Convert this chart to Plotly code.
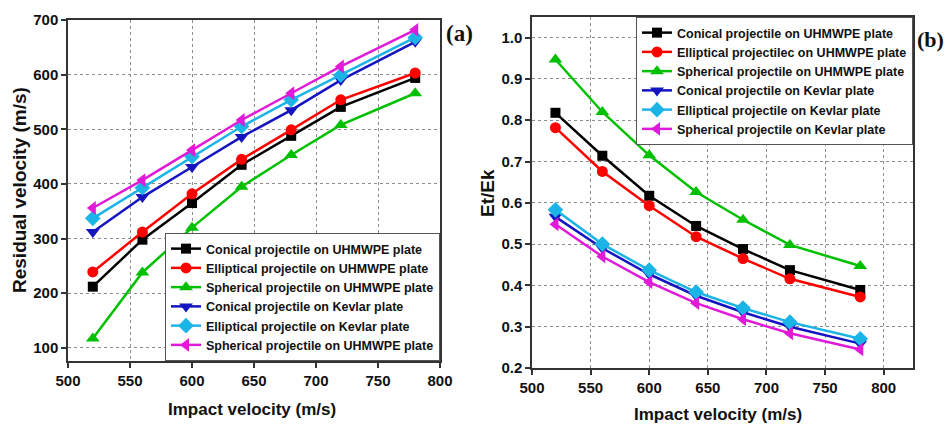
import plotly.graph_objects as go

# Impact velocities (m/s)
impact_velocity = [520, 560, 600, 640, 680, 720, 780]

# (a) Residual velocity (m/s)
res_conical_uhmwpe = [212, 298, 365, 435, 488, 541, 594]
res_elliptical_uhmwpe = [239, 312, 382, 445, 499, 554, 603]
res_spherical_uhmwpe = [117, 238, 320, 395, 453, 508, 566]
res_conical_kevlar = [312, 376, 431, 486, 535, 590, 660]
res_elliptical_kevlar = [337, 393, 450, 505, 554, 599, 668]
res_spherical_kevlar = [356, 407, 462, 517, 566, 615, 682]

# (b) Energy ratio Et/Ek
ek_conical_uhmwpe = [0.818, 0.714, 0.617, 0.544, 0.488, 0.437, 0.389]
ek_elliptical_uhmwpe = [0.782, 0.676, 0.593, 0.518, 0.465, 0.416, 0.372]
ek_spherical_uhmwpe = [0.947, 0.820, 0.715, 0.626, 0.559, 0.498, 0.447]
ek_conical_kevlar = [0.566, 0.490, 0.427, 0.375, 0.335, 0.300, 0.259]
ek_elliptical_kevlar = [0.583, 0.500, 0.437, 0.384, 0.345, 0.311, 0.271]
ek_spherical_kevlar = [0.548, 0.470, 0.408, 0.357, 0.318, 0.284, 0.245]

names_a = [
    "Conical projectile on UHMWPE plate",
    "Elliptical projectile on UHMWPE plate",
    "Spherical projectile on UHMWPE plate",
    "Conical projectile on Kevlar plate",
    "Elliptical projectile on Kevlar plate",
    "Spherical projectile on UHMWPE plate",
]
names_b = [
    "Conical projectile on UHMWPE plate",
    "Elliptical projectilec on UHMWPE plate",
    "Spherical projectile on UHMWPE plate",
    "Conical projectile on Kevlar plate",
    "Elliptical projectile on Kevlar plate",
    "Spherical projectile on Kevlar plate",
]

colors = ["#000000", "#ff0000", "#00c000", "#1414c0", "#1ab4e6", "#e01ad8"]
symbols = ["square", "circle", "triangle-up", "triangle-down", "diamond", "triangle-left"]
msizes = [10, 11, 12, 12, 12, 12]

series_a = [res_conical_uhmwpe, res_elliptical_uhmwpe, res_spherical_uhmwpe,
            res_conical_kevlar, res_elliptical_kevlar, res_spherical_kevlar]
series_b = [ek_conical_uhmwpe, ek_elliptical_uhmwpe, ek_spherical_uhmwpe,
            ek_conical_kevlar, ek_elliptical_kevlar, ek_spherical_kevlar]

W, H = 947, 429
FONT = "Liberation Sans, Arial, sans-serif"
SERIF = "Liberation Serif, Times New Roman, serif"

fig = go.Figure()

for i, ys in enumerate(series_a):
    fig.add_trace(go.Scatter(
        x=impact_velocity, y=ys, mode="lines+markers",
        name="<b>" + names_a[i] + "</b>",
        line=dict(color=colors[i], width=2.5),
        marker=dict(symbol=symbols[i], size=msizes[i], color=colors[i]),
        xaxis="x", yaxis="y", legend="legend",
    ))

for i, ys in enumerate(series_b):
    fig.add_trace(go.Scatter(
        x=impact_velocity, y=ys, mode="lines+markers",
        name="<b>" + names_b[i] + "</b>",
        line=dict(color=colors[i], width=2.5),
        marker=dict(symbol=symbols[i], size=msizes[i], color=colors[i]),
        xaxis="x2", yaxis="y2", legend="legend2",
    ))


def px_x(p):
    return p / W


def px_y(p):
    return (H - p) / H


axis_common = dict(
    showline=True, mirror=True, linecolor="#333333", linewidth=1.5,
    ticks="outside", ticklen=5, tickwidth=1.5, tickcolor="#333333",
    showgrid=True, gridcolor="#8c8c8c", griddash="dot", gridwidth=1,
    zeroline=False, automargin=False,
    tickfont=dict(family=FONT, size=15, color="#111111", weight="bold"),
)

legend_common = dict(
    bgcolor="white", bordercolor="#555555", borderwidth=1,
    font=dict(family=FONT, size=12.5, color="#111111"),
    itemwidth=30, tracegroupgap=0,
)

fig.update_layout(
    width=W, height=H,
    margin=dict(l=0, r=0, t=0, b=0, autoexpand=False),
    paper_bgcolor="white", plot_bgcolor="white",
    xaxis=dict(domain=[px_x(68), px_x(440)], range=[500, 800],
               tickvals=[500, 550, 600, 650, 700, 750, 800], anchor="y", **axis_common),
    yaxis=dict(domain=[px_y(361), px_y(20)], range=[76, 700],
               tickvals=[100, 200, 300, 400, 500, 600, 700], anchor="x", **axis_common),
    xaxis2=dict(domain=[px_x(532), px_x(913)], range=[500, 825],
                tickvals=[500, 550, 600, 650, 700, 750, 800], anchor="y2", **axis_common),
    yaxis2=dict(domain=[px_y(368), px_y(17)], range=[0.2, 1.05],
                tickvals=[0.2, 0.3, 0.4, 0.5, 0.6, 0.7, 0.8, 0.9, 1.0],
                tickformat=".1f", anchor="x2", **axis_common),
    legend=dict(x=px_x(440), xanchor="right", y=px_y(361), yanchor="bottom", **legend_common),
    legend2=dict(x=px_x(913), xanchor="right", y=px_y(17), yanchor="top", **legend_common),
    showlegend=True,
)


def label(text, x, y, size, family=FONT, angle=0):
    return dict(text=text, x=px_x(x), y=px_y(y), xref="paper", yref="paper",
                xanchor="center", yanchor="middle", showarrow=False, textangle=angle,
                font=dict(family=family, size=size, color="#111111"))


annotations = [
    label("<b>Impact velocity (m/s)</b>", 252, 409, 17),
    label("<b>Impact velocity (m/s)</b>", 718, 414, 17),
    label("<b>Residual velocity (m/s)</b>", 19, 190, 19, angle=-90),
    label("<b>Et/Ek</b>", 487, 193, 19, angle=-90),
    label("<b>(a)</b>", 459, 34, 23, family=SERIF),
    label("<b>(b)</b>", 930, 39, 22, family=SERIF),
]
fig.update_layout(annotations=annotations)

fig.write_html("out.html")
